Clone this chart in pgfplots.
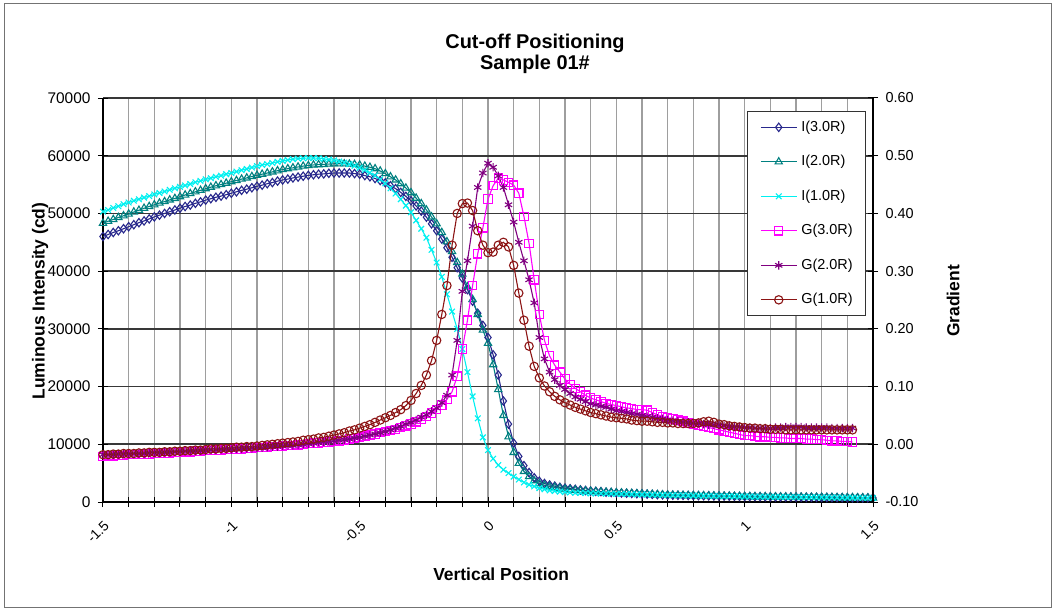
\documentclass[border=0pt]{standalone}
\usepackage{pgfplots}
\pgfplotsset{compat=1.18}
\usepackage{pgfplotstable}
\usepackage{fontspec}
\setmainfont{Liberation Sans}

\definecolor{cIa}{RGB}{40,40,140}
\definecolor{cIb}{RGB}{0,128,128}
\definecolor{cIc}{RGB}{0,240,240}
\definecolor{cGa}{RGB}{255,0,255}
\definecolor{cGb}{RGB}{128,0,128}
\definecolor{cGc}{RGB}{140,20,20}

\pgfplotstableread{
x I3 I2 I1
-1.50 46000 48300 50300
-1.48 46350 48650 50600
-1.46 46700 48950 50950
-1.44 47000 49300 51250
-1.42 47350 49600 51600
-1.40 47700 49900 51900
-1.38 48050 50250 52200
-1.36 48400 50550 52450
-1.34 48700 50900 52750
-1.32 49050 51200 53000
-1.30 49400 51500 53300
-1.28 49700 51800 53550
-1.26 50000 52050 53800
-1.24 50300 52350 54100
-1.22 50600 52600 54350
-1.20 50900 52900 54600
-1.18 51200 53200 54850
-1.16 51450 53450 55100
-1.14 51750 53750 55400
-1.12 52000 54000 55650
-1.10 52300 54300 55900
-1.08 52550 54550 56100
-1.06 52800 54800 56350
-1.04 53000 55000 56550
-1.02 53250 55250 56800
-1.00 53500 55500 57000
-0.98 53750 55700 57250
-0.96 54000 55950 57500
-0.94 54200 56150 57700
-0.92 54450 56400 57950
-0.90 54700 56600 58200
-0.88 54900 56800 58400
-0.86 55150 57000 58550
-0.84 55350 57200 58750
-0.82 55600 57400 58950
-0.80 55800 57600 59100
-0.78 55950 57750 59250
-0.76 56150 57900 59400
-0.74 56300 58050 59500
-0.72 56450 58200 59550
-0.70 56600 58300 59600
-0.68 56700 58400 59600
-0.66 56800 58450 59550
-0.64 56850 58500 59450
-0.62 56950 58550 59350
-0.60 57000 58600 59200
-0.58 57000 58600 59000
-0.56 57000 58600 58800
-0.54 57000 58550 58550
-0.52 56900 58500 58250
-0.50 56800 58400 57900
-0.48 56550 58200 57500
-0.46 56350 58000 57050
-0.44 56050 57750 56550
-0.42 55700 57350 55900
-0.40 55300 56900 55200
-0.38 54800 56350 54350
-0.36 54300 55800 53450
-0.34 53650 55150 52450
-0.32 52950 54400 51350
-0.30 52200 53600 50200
-0.28 51300 52650 48800
-0.26 50400 51700 47350
-0.24 49350 50600 45800
-0.22 48200 49400 43700
-0.20 47000 48200 41500
-0.18 45550 46700 39000
-0.16 44050 45100 36000
-0.14 42400 43400 33000
-0.12 40600 41500 30000
-0.10 38800 39500 26500
-0.08 36800 37300 22500
-0.06 34800 35100 18300
-0.04 32700 32500 14500
-0.02 30600 29800 11200
0.00 28500 27500 9000
0.02 25500 23800 7500
0.04 22000 19500 6400
0.06 17500 15000 5600
0.08 13500 11300 5000
0.10 10200 8600 4400
0.12 7900 6700 3900
0.14 6300 5300 3400
0.16 5100 4400 3000
0.18 4200 3700 2700
0.20 3600 3200 2400
0.22 3200 2900 2200
0.24 2950 2700 2000
0.26 2750 2550 1900
0.28 2550 2400 1800
0.30 2400 2250 1700
0.32 2300 2150 1650
0.34 2200 2050 1600
0.36 2100 2000 1580
0.38 2000 1900 1550
0.40 1900 1850 1500
0.42 1850 1800 1480
0.44 1800 1750 1460
0.46 1700 1700 1440
0.48 1650 1650 1420
0.50 1600 1600 1400
0.52 1560 1560 1380
0.54 1520 1520 1360
0.56 1480 1480 1340
0.58 1440 1440 1320
0.60 1400 1400 1300
0.62 1360 1360 1280
0.64 1320 1320 1260
0.66 1280 1280 1240
0.68 1240 1240 1220
0.70 1200 1200 1200
0.72 1180 1180 1180
0.74 1170 1160 1160
0.76 1150 1150 1150
0.78 1130 1130 1130
0.80 1120 1110 1110
0.82 1100 1100 1100
0.84 1080 1080 1080
0.86 1070 1060 1060
0.88 1050 1050 1050
0.90 1030 1030 1030
0.92 1020 1010 1010
0.94 1000 1000 1000
0.96 980 980 980
0.98 970 960 960
1.00 950 950 950
1.02 940 940 940
1.04 930 930 930
1.06 920 920 920
1.08 910 910 910
1.10 900 900 900
1.12 890 890 890
1.14 880 880 880
1.16 870 870 870
1.18 860 860 860
1.20 850 850 850
1.22 840 840 840
1.24 830 830 830
1.26 820 820 820
1.28 810 810 810
1.30 800 800 800
1.32 790 790 790
1.34 780 780 780
1.36 770 770 770
1.38 760 760 760
1.40 750 750 750
1.42 740 740 740
1.44 730 730 730
1.46 720 720 720
1.48 710 710 710
1.50 700 700 700
}\Itab

\pgfplotstableread{
x G3 G2 G1
-1.50 -0.021 -0.018 -0.018
-1.48 -0.020 -0.018 -0.018
-1.46 -0.020 -0.018 -0.017
-1.44 -0.019 -0.017 -0.017
-1.42 -0.019 -0.017 -0.016
-1.40 -0.018 -0.017 -0.016
-1.38 -0.018 -0.016 -0.016
-1.36 -0.018 -0.016 -0.015
-1.34 -0.017 -0.016 -0.015
-1.32 -0.017 -0.015 -0.014
-1.30 -0.016 -0.015 -0.014
-1.28 -0.016 -0.015 -0.014
-1.26 -0.015 -0.014 -0.013
-1.24 -0.015 -0.014 -0.013
-1.22 -0.014 -0.013 -0.012
-1.20 -0.014 -0.013 -0.012
-1.18 -0.013 -0.012 -0.011
-1.16 -0.013 -0.012 -0.011
-1.14 -0.012 -0.012 -0.010
-1.12 -0.012 -0.011 -0.010
-1.10 -0.011 -0.011 -0.009
-1.08 -0.011 -0.010 -0.008
-1.06 -0.010 -0.010 -0.008
-1.04 -0.010 -0.009 -0.007
-1.02 -0.009 -0.009 -0.007
-1.00 -0.009 -0.009 -0.006
-0.98 -0.008 -0.008 -0.005
-0.96 -0.008 -0.008 -0.005
-0.94 -0.007 -0.007 -0.004
-0.92 -0.007 -0.007 -0.004
-0.90 -0.006 -0.006 -0.003
-0.88 -0.006 -0.006 -0.002
-0.86 -0.005 -0.005 -0.001
-0.84 -0.004 -0.004 0.000
-0.82 -0.004 -0.004 0.001
-0.80 -0.003 -0.003 0.002
-0.78 -0.002 -0.002 0.003
-0.76 -0.002 -0.002 0.004
-0.74 -0.001 -0.001 0.005
-0.72 0.000 0.000 0.007
-0.70 0.001 0.001 0.008
-0.68 0.002 0.002 0.009
-0.66 0.002 0.003 0.011
-0.64 0.003 0.004 0.012
-0.62 0.004 0.005 0.014
-0.60 0.005 0.006 0.016
-0.58 0.006 0.007 0.018
-0.56 0.007 0.008 0.020
-0.54 0.009 0.009 0.023
-0.52 0.010 0.011 0.025
-0.50 0.012 0.012 0.028
-0.48 0.014 0.014 0.031
-0.46 0.016 0.016 0.034
-0.44 0.018 0.018 0.038
-0.42 0.020 0.020 0.042
-0.40 0.022 0.022 0.046
-0.38 0.024 0.025 0.050
-0.36 0.026 0.028 0.055
-0.34 0.029 0.031 0.060
-0.32 0.032 0.035 0.067
-0.30 0.035 0.038 0.076
-0.28 0.039 0.042 0.088
-0.26 0.043 0.047 0.102
-0.24 0.048 0.051 0.120
-0.22 0.054 0.057 0.145
-0.20 0.060 0.063 0.180
-0.18 0.068 0.072 0.225
-0.16 0.078 0.085 0.275
-0.14 0.091 0.120 0.345
-0.12 0.118 0.180 0.400
-0.10 0.165 0.265 0.417
-0.08 0.215 0.318 0.418
-0.06 0.275 0.378 0.405
-0.04 0.330 0.445 0.370
-0.02 0.375 0.470 0.345
0.00 0.425 0.487 0.332
0.02 0.448 0.480 0.333
0.04 0.461 0.465 0.345
0.06 0.458 0.445 0.350
0.08 0.454 0.415 0.342
0.10 0.449 0.385 0.310
0.12 0.435 0.350 0.262
0.14 0.395 0.318 0.215
0.16 0.348 0.285 0.170
0.18 0.285 0.245 0.135
0.20 0.225 0.185 0.115
0.22 0.180 0.148 0.101
0.24 0.153 0.125 0.091
0.26 0.137 0.112 0.083
0.28 0.125 0.102 0.077
0.30 0.113 0.095 0.072
0.32 0.104 0.088 0.068
0.34 0.097 0.082 0.064
0.36 0.091 0.078 0.061
0.38 0.085 0.074 0.058
0.40 0.080 0.070 0.055
0.42 0.077 0.068 0.053
0.44 0.074 0.066 0.051
0.46 0.071 0.064 0.049
0.48 0.069 0.061 0.047
0.50 0.067 0.058 0.046
0.52 0.065 0.057 0.045
0.54 0.063 0.055 0.044
0.56 0.062 0.053 0.042
0.58 0.060 0.052 0.041
0.60 0.060 0.050 0.040
0.62 0.059 0.048 0.040
0.64 0.055 0.047 0.039
0.66 0.051 0.045 0.038
0.68 0.048 0.044 0.038
0.70 0.046 0.042 0.037
0.72 0.044 0.041 0.037
0.74 0.042 0.040 0.036
0.76 0.040 0.039 0.036
0.78 0.037 0.038 0.036
0.80 0.035 0.037 0.036
0.82 0.033 0.036 0.037
0.84 0.031 0.035 0.039
0.86 0.029 0.034 0.040
0.88 0.027 0.034 0.038
0.90 0.025 0.033 0.035
0.92 0.023 0.032 0.034
0.94 0.021 0.031 0.032
0.96 0.019 0.030 0.031
0.98 0.017 0.030 0.030
1.00 0.015 0.029 0.029
1.02 0.015 0.029 0.028
1.04 0.014 0.028 0.028
1.06 0.013 0.028 0.027
1.08 0.013 0.028 0.027
1.10 0.012 0.028 0.026
1.12 0.012 0.029 0.026
1.14 0.011 0.029 0.026
1.16 0.011 0.030 0.025
1.18 0.010 0.030 0.025
1.20 0.010 0.030 0.025
1.22 0.010 0.030 0.025
1.24 0.009 0.029 0.025
1.26 0.009 0.029 0.025
1.28 0.008 0.029 0.025
1.30 0.008 0.029 0.025
1.32 0.007 0.029 0.025
1.34 0.006 0.028 0.025
1.36 0.006 0.028 0.025
1.38 0.005 0.028 0.025
1.40 0.005 0.028 0.025
1.42 0.004 0.028 0.025
}\Gtab

\begin{document}
\begin{tikzpicture}
\begin{axis}[
  at={(0bp,0bp)}, anchor=south west,
  scale only axis, width=770bp, height=404bp,
  xmin=-1.5, xmax=1.5, ymin=0, ymax=70000,
  axis x line*=bottom, axis y line*=left,
  axis line style={black, line width=1.5bp},
  xtick={-1.5,-1,-0.5,0,0.5,1,1.5},
  xticklabels={-1.5,-1,-0.5,0,0.5,1,1.5},
  minor x tick num=4,
  ytick={0,10000,20000,30000,40000,50000,60000,70000},
  yticklabels={0,10000,20000,30000,40000,50000,60000,70000},
  scaled y ticks=false,
  xmajorgrids, xminorgrids, ymajorgrids,
  x grid style={color=black!38, line width=1.6bp},
  y grid style={color=black!78, line width=1.6bp},
  tick align=center, major tick length=10bp, minor tick length=10bp,
  tick style={black, line width=1bp},
  tick label style={font=\fontsize{14}{16}\selectfont},
  /pgf/number format/assume math mode=true,
  xticklabel style={xshift=6bp, yshift=-14bp, rotate=45, anchor=east},
  yticklabel style={xshift=-4bp, font=\fontsize{15.5}{17}\selectfont},
  xlabel={Vertical Position},
  xlabel style={font=\bfseries\fontsize{17.5}{20}\selectfont, at={(axis description cs:0.517,-0.1955)}, anchor=base},
  ylabel={Luminous Intensity (cd)},
  ylabel style={font=\bfseries\fontsize{17.5}{20}\selectfont, at={(axis description cs:-0.0818,0.4975)}, anchor=center},
  clip=false,
  every axis plot/.append style={line width=1.1bp},
]
\coordinate (O) at (rel axis cs:0,0);
\addplot[color=cIa, mark=diamond, mark size=4.2pt] table[x=x,y=I3]{\Itab};
\addplot[color=cIb, mark=triangle, mark size=4.2pt] table[x=x,y=I2]{\Itab};
\addplot[color=cIc, mark=x, mark size=4pt] table[x=x,y=I1]{\Itab};
\end{axis}

\begin{axis}[
  at={(0bp,0bp)}, anchor=south west,
  scale only axis, width=770bp, height=404bp,
  xmin=-1.5, xmax=1.5, ymin=-0.1, ymax=0.6,
  axis x line=none, axis y line*=right,
  axis line style={black, line width=1.5bp},
  ytick={-0.1,0,0.1,0.2,0.3,0.4,0.5,0.6},
  yticklabels={-0.10,0.00,0.10,0.20,0.30,0.40,0.50,0.60},
  tick align=center, major tick length=10bp,
  tick style={black, line width=1bp},
  tick label style={font=\fontsize{14.5}{16}\selectfont},
  /pgf/number format/assume math mode=true,
  yticklabel style={xshift=4bp},
  ylabel={Gradient},
  ylabel style={font=\bfseries\fontsize{17.5}{20}\selectfont, at={(axis description cs:1.104,0.4975)}, anchor=center},
  clip=false,
  every axis plot/.append style={line width=1.1bp},
  legend style={at={(axis description cs:0.991,0.968)}, anchor=north east,
    draw=black!80, line width=0.8bp, fill=white,
    font=\fontsize{14.5}{16}\selectfont,
    row sep=20.5bp, column sep=4bp, inner xsep=13bp, inner ysep=9bp,
    nodes={inner sep=0pt, text height=11bp, text depth=3bp}},
  legend cell align=left,
  legend image code/.code={\draw[mark repeat=2,mark phase=2,#1] plot coordinates {(0bp,0bp) (18bp,0bp) (36bp,0bp)};},
]
\addlegendimage{color=cIa, mark=diamond, mark size=4.2pt, line width=1.1bp}
\addlegendentry{I(3.0R)}
\addlegendimage{color=cIb, mark=triangle, mark size=4.2pt, line width=1.1bp}
\addlegendentry{I(2.0R)}
\addlegendimage{color=cIc, mark=x, mark size=4pt, line width=1.1bp}
\addlegendentry{I(1.0R)}
\addplot[color=cGa, mark=square, mark size=4.2pt] table[x=x,y=G3]{\Gtab};
\addlegendentry{G(3.0R)}
\addplot[color=cGb, mark=asterisk, mark size=4.2pt] table[x=x,y=G2]{\Gtab};
\addlegendentry{G(2.0R)}
\addplot[color=cGc, mark=o, mark size=4.2pt] table[x=x,y=G1]{\Gtab};
\addlegendentry{G(1.0R)}
\end{axis}

\pgfresetboundingbox
\path[use as bounding box] ([shift={(-103bp,-107bp)}]O) rectangle ([shift={(953bp,502bp)}]O);
\draw[black!55,line width=0.8bp] ([shift={(-99bp,-105.5bp)}]O) rectangle ([shift={(948.5bp,499bp)}]O);
\node[font=\bfseries\fontsize{20}{24}\selectfont, anchor=base] at ([shift={(432bp,453bp)}]O) {Cut-off Positioning};
\node[font=\bfseries\fontsize{20}{24}\selectfont, anchor=base] at ([shift={(432bp,432bp)}]O) {Sample 01\#};
\end{tikzpicture}
\end{document}
